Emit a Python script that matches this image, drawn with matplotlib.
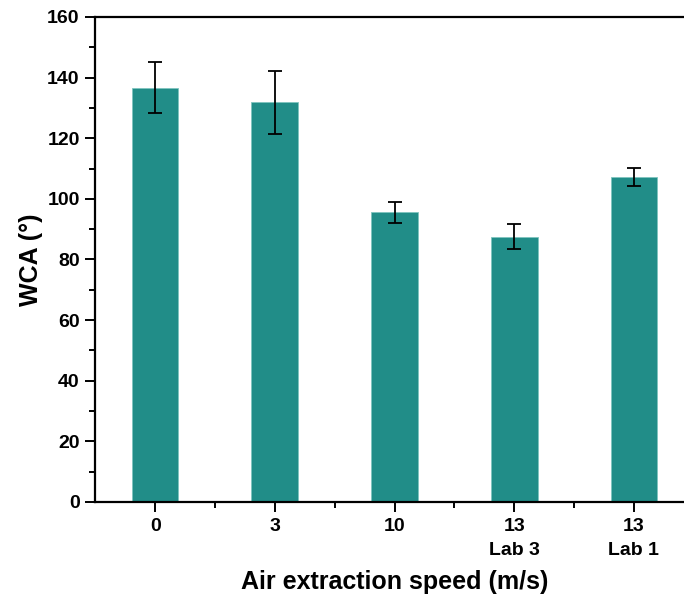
import numpy as np
import matplotlib.pyplot as plt
from matplotlib.ticker import MultipleLocator

# Data
categories = ['0', '3', '10', '13\nLab 3', '13\nLab 1']
wca = [136.7, 131.8, 95.5, 87.5, 107.1]
wca_err = [8.5, 10.3, 3.6, 4.1, 3.0]


def main():
    plt.rcParams['font.family'] = ['Liberation Sans', 'DejaVu Sans']
    plt.rcParams['font.weight'] = 'bold'

    fig = plt.figure(figsize=(6.84, 6.04), dpi=100)
    ax = fig.add_axes([0.1393, 0.1689, 0.875, 0.803])

    x = np.arange(len(categories))
    ax.bar(x, wca, width=0.39, color='#218D88', edgecolor='#7fc4bf', linewidth=0.6,
           yerr=wca_err, capsize=5,
           error_kw=dict(ecolor='black', elinewidth=1.3, capthick=1.3))

    ax.set_xlim(-0.5, 4.5)
    ax.set_ylim(0, 160)
    ax.set_xticks(x)
    ax.set_xticklabels(categories, linespacing=1.55)
    ax.xaxis.set_minor_locator(plt.FixedLocator(x[:-1] + 0.5))
    ax.yaxis.set_major_locator(MultipleLocator(20))
    ax.yaxis.set_minor_locator(MultipleLocator(10))

    for s in ax.spines.values():
        s.set_linewidth(1.6)
    ax.tick_params(which='major', direction='out', length=7.2, width=1.4,
                   labelsize=14, pad=4)
    ax.tick_params(which='minor', direction='out', length=4, width=1.4)
    ax.tick_params(top=False, right=False, which='both')

    ax.set_xlabel('Air extraction speed (m/s)', fontsize=18, fontweight='bold', labelpad=8)
    ax.set_ylabel('WCA (°)', fontsize=18, fontweight='bold', labelpad=3)

    plt.savefig('out.png', dpi=100)


if __name__ == '__main__':
    main()
